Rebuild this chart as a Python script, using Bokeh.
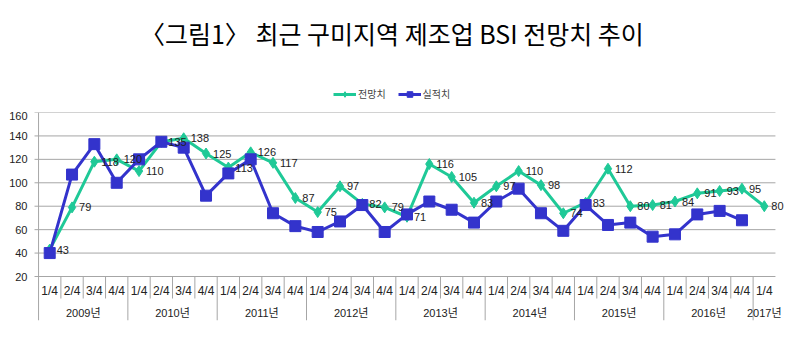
from bokeh.plotting import figure
from bokeh.models import (FactorRange, Range1d, ColumnDataSource, Legend, LegendItem, FixedTicker,
                          LabelSet)
from bokeh.layouts import column
from bokeh.embed import file_html
from bokeh.resources import INLINE
from bokeh.core.properties import value

title_text = "〈그림1〉 최근 구미지역 제조업 BSI 전망치 추이"
series_names = ["전망치", "실적치"]
years = ["2009년", "2010년", "2011년", "2012년", "2013년", "2014년", "2015년", "2016년", "2017년"]
quarters = ["1/4", "2/4", "3/4", "4/4"]
periods = [(y, q) for y in years[:-1] for q in quarters] + [("2017년", "1/4")]

forecast = [43, 79, 118, 120, 110, 135, 138, 125, 113, 126, 117, 87, 75, 97, 82, 79,
            71, 116, 105, 83, 97, 110, 98, 74, 83, 112, 80, 81, 84, 91, 93, 95, 80]
actual = [40, 107, 133, 100, 120, 135, 130, 89, 108, 120, 74, 63, 58, 67, 81, 58,
          73, 84, 77, 66, 84, 95, 74, 59, 81, 64, 66, 54, 56, 73, 76, 68]
yticks = [20, 40, 60, 80, 100, 120, 140, 160]

GREEN = "#1FC997"
BLUE = "#3333CC"
GRID = "#A6A6A6"
NUM_FONT = "Liberation Sans, Noto Sans CJK KR"
KR_FONT = "Noto Sans CJK KR"
W = 787

# layout sizes (pixels)
VALUE_PX = 164          # height of the value area (20..160)
BAND_PX = 44            # height of the two-row category band under the value area
Q_ROW_PX = 22           # height of the quarter row
px_per_unit = VALUE_PX / (yticks[-1] - yticks[0])
y_low = yticks[0] - BAND_PX / px_per_unit
y_q_sep = yticks[0] - Q_ROW_PX / px_per_unit
y_q_text = yticks[0] - 14 / px_per_unit
y_y_text = yticks[0] - 36 / px_per_unit

# ---- header: title + legend ----
h = figure(x_range=Range1d(0, 1), y_range=Range1d(0, 1), width=W, height=111,
           output_backend="svg", toolbar_location=None, x_axis_location=None, y_axis_location=None,
           min_border=0, outline_line_color=None)
h.grid.visible = False
h.text(x=[0.480], y=[0.71], text=[title_text], text_align="center", text_baseline="middle",
       text_font=value(KR_FONT), text_font_size="25px", text_color="#000000")
lg_src = ColumnDataSource(dict(x=[-5, -4], y=[-5, -4]))
hgl = h.line("x", "y", source=lg_src, line_color=GREEN, line_width=3)
hgm = h.scatter("x", "y", source=lg_src, marker="diamond", size=9, fill_color=GREEN, line_color=GREEN)
hbl = h.line("x", "y", source=lg_src, line_color=BLUE, line_width=3)
hbm = h.scatter("x", "y", source=lg_src, marker="square", size=9, fill_color=BLUE, line_color=BLUE)
legend = Legend(items=[LegendItem(label=series_names[0], renderers=[hgl, hgm]),
                       LegendItem(label=series_names[1], renderers=[hbl, hbm])],
                orientation="horizontal", location=(305, 10), margin=0, padding=0,
                spacing=12, label_standoff=2, glyph_width=23, glyph_height=14,
                label_text_font=KR_FONT, label_text_font_size="10px",
                label_height=14, border_line_color=None, background_fill_alpha=0)
h.add_layout(legend)

# ---- main plot (value area + category band) ----
x_range = FactorRange(factors=periods, range_padding=0.45, range_padding_units="absolute",
                      group_padding=0, factor_padding=0)

p = figure(x_range=x_range, y_range=Range1d(y_low, yticks[-1]), width=W, height=1 + VALUE_PX + BAND_PX + 4,
           output_backend="svg", toolbar_location=None, x_axis_location=None,
           min_border_left=28, min_border_right=2, min_border_bottom=4, min_border_top=1,
           outline_line_color=None)
p.grid.visible = False
p.yaxis.ticker = FixedTicker(ticks=yticks)
p.yaxis.axis_line_color = None
p.yaxis.major_tick_line_color = None
p.yaxis.major_tick_out = 0
p.yaxis.major_tick_in = 0
p.yaxis.minor_tick_line_color = None
p.yaxis.major_label_standoff = 1
p.yaxis.major_label_text_font = NUM_FONT
p.yaxis.major_label_text_font_size = "11px"
p.yaxis.major_label_text_color = "#222222"

first_edge = (periods[0][0], periods[0][1], -0.5)
grid_start = (periods[0][0], periods[0][1], -0.68)
last_edge = (periods[-1][0], periods[-1][1], 0.5)

# horizontal gridlines (with outward tick stubs) and the left axis line
p.segment(x0=[grid_start] * len(yticks), y0=yticks, x1=[last_edge] * len(yticks), y1=yticks,
          line_color=GRID, line_width=1)
p.segment(x0=[first_edge], y0=[y_low], x1=[first_edge], y1=[yticks[-1]], line_color=GRID, line_width=1)

src_f = ColumnDataSource(dict(x=periods, y=forecast, label=[str(v) for v in forecast]))
src_a = ColumnDataSource(dict(x=periods[:len(actual)], y=actual))

p.line("x", "y", source=src_f, line_color=GREEN, line_width=3)
p.scatter("x", "y", source=src_f, marker="diamond", size=11, fill_color=GREEN, line_color=GREEN)
p.line("x", "y", source=src_a, line_color=BLUE, line_width=3)
p.scatter("x", "y", source=src_a, marker="square", size=11, fill_color=BLUE, line_color=BLUE)
p.add_layout(LabelSet(x="x", y="y", text="label", source=src_f, x_offset=7, text_baseline="middle",
                      text_align="left", text_font=value(NUM_FONT), text_font_size="11px",
                      text_color="#222222"))

# category band
q_src = ColumnDataSource(dict(x=periods, q=[q for (_, q) in periods], y=[y_q_text] * len(periods)))
p.add_layout(LabelSet(x="x", y="y", text="q", source=q_src, text_align="center", text_baseline="middle",
                      text_font=value(NUM_FONT), text_font_size="12px", text_color="#222222"))
y_src = ColumnDataSource(dict(x=years, t=years, y=[y_y_text] * len(years)))
p.add_layout(LabelSet(x="x", y="y", text="t", source=y_src, text_align="center", text_baseline="middle",
                      text_font=value(NUM_FONT), text_font_size="11px", text_color="#222222"))

q_sep = [(y, q, -0.5) for (y, q) in periods if q != "1/4"]
p.segment(x0=q_sep, y0=[yticks[0]] * len(q_sep), x1=q_sep, y1=[y_q_sep] * len(q_sep),
          line_color=GRID, line_width=1)
y_sep = [(y, "1/4", -0.5) for y in years[1:]]
p.segment(x0=y_sep, y0=[yticks[0]] * len(y_sep), x1=y_sep, y1=[y_low] * len(y_sep),
          line_color=GRID, line_width=1)

layout = column(h, p, spacing=0)
open("out.html", "w").write(file_html(layout, INLINE))
